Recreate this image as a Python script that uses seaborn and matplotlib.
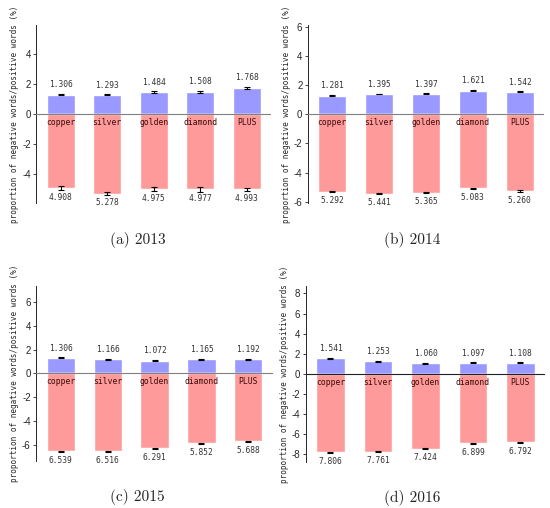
import numpy as np
import pandas as pd
import seaborn as sns
import matplotlib
matplotlib.use('Agg')
import matplotlib.pyplot as plt
from matplotlib.ticker import MultipleLocator

# Datos
categorias = ['copper', 'silver', 'golden', 'diamond', 'PLUS']
paneles = ['(a) 2013', '(b) 2014', '(c) 2015', '(d) 2016']

pos_2013 = [1.306, 1.293, 1.484, 1.508, 1.768]
neg_2013 = [4.908, 5.278, 4.975, 4.977, 4.993]
pos_2014 = [1.281, 1.395, 1.397, 1.621, 1.542]
neg_2014 = [5.292, 5.441, 5.365, 5.083, 5.260]
pos_2015 = [1.306, 1.166, 1.072, 1.165, 1.192]
neg_2015 = [6.539, 6.516, 6.291, 5.852, 5.688]
pos_2016 = [1.541, 1.253, 1.060, 1.097, 1.108]
neg_2016 = [7.806, 7.761, 7.424, 6.899, 6.792]

# Errores estimados (semiamplitud)
err_pos_2013 = [0.04, 0.04, 0.04, 0.06, 0.08]
err_neg_2013 = [0.12, 0.10, 0.12, 0.17, 0.10]
err_pos_2014 = [0.03, 0.03, 0.03, 0.03, 0.03]
err_neg_2014 = [0.04, 0.04, 0.03, 0.04, 0.04]
err_pos_2015 = [0.03, 0.03, 0.03, 0.03, 0.04]
err_neg_2015 = [0.05, 0.05, 0.04, 0.05, 0.05]
err_pos_2016 = [0.04, 0.04, 0.04, 0.04, 0.04]
err_neg_2016 = [0.05, 0.05, 0.05, 0.05, 0.05]

sns.set_style('ticks')
plt.rcParams['font.family'] = ['Liberation Sans', 'DejaVu Sans']
plt.rcParams['axes.unicode_minus'] = False

MONO = 'DejaVu Sans Mono'
AZUL = '#9999ff'
ROJO = '#ff9a9a'

fig = plt.figure(figsize=(5.5, 5.08), dpi=100)

# posiciones de los ejes [izq, abajo, ancho, alto]
rects = [
    [0.066, 0.600, 0.427, 0.350],
    [0.560, 0.600, 0.429, 0.350],
    [0.066, 0.093, 0.430, 0.344],
    [0.556, 0.091, 0.435, 0.346],
]
datos = [
    (pos_2013, neg_2013, err_pos_2013, err_neg_2013),
    (pos_2014, neg_2014, err_pos_2014, err_neg_2014),
    (pos_2015, neg_2015, err_pos_2015, err_neg_2015),
    (pos_2016, neg_2016, err_pos_2016, err_neg_2016),
]
color_cero = ['#808080', '#808080', '#808080', '#222222']

for i, (rect, (pos, neg, epos, eneg)) in enumerate(zip(rects, datos)):
    ax = fig.add_axes(rect)
    df = pd.DataFrame({'cat': categorias, 'pos': pos,
                       'neg': -np.array(neg)})

    sns.barplot(data=df, x='cat', y='pos', color=AZUL, width=0.6,
                saturation=1, errorbar=None, ax=ax)
    sns.barplot(data=df, x='cat', y='neg', color=ROJO, width=0.6,
                saturation=1, errorbar=None, ax=ax)

    barras = ax.patches
    centros = [b.get_x() + b.get_width() / 2 for b in barras[:len(categorias)]]

    # Barras de error
    ax.errorbar(centros, df['pos'], yerr=epos, fmt='none', ecolor='black',
                elinewidth=0.8, capsize=2.2, capthick=0.8, zorder=3)
    ax.errorbar(centros, df['neg'], yerr=eneg, fmt='none', ecolor='black',
                elinewidth=0.8, capsize=2.2, capthick=0.8, zorder=3)

    # Etiquetas de valores y categorias
    for x, p, n, c in zip(centros, df['pos'], df['neg'], categorias):
        ax.annotate(f'{p:.3f}', (x, p), xytext=(0, 7), textcoords='offset points',
                    ha='center', va='center', fontsize=5.7, family=MONO,
                    color='#333333')
        ax.annotate(f'{-n:.3f}', (x, n), xytext=(0, -6.5), textcoords='offset points',
                    ha='center', va='center', fontsize=5.7, family=MONO,
                    color='#333333')
        ax.annotate(c, (x, 0), xytext=(0, -6), textcoords='offset points',
                    ha='center', va='center', fontsize=5.8, family=MONO,
                    color='#3a0a0a')

    lim = 1.12 * max(neg)
    ax.set_ylim(-lim, lim)
    ax.set_xlim(-0.52, len(categorias) - 0.48)
    ax.axhline(0, color=color_cero[i], linewidth=0.8, zorder=4)

    ax.yaxis.set_major_locator(MultipleLocator(2))
    ax.tick_params(axis='y', labelsize=7, length=2.5, width=0.6, pad=1.5)
    ax.set_xticks([])
    ax.set_xlabel('')
    ax.set_ylabel('proportion of negative words/positive words (%)',
                  fontsize=5.5, family=MONO, labelpad=2)
    sns.despine(ax=ax, bottom=True)
    ax.spines['left'].set_linewidth(0.7)

    # Titulo del panel
    fig.text(0.25 if i % 2 == 0 else 0.75, rect[1] - 0.072, paneles[i],
             ha='center', va='center', fontsize=11, family='cmr10')

fig.savefig('out.png', dpi=100)
